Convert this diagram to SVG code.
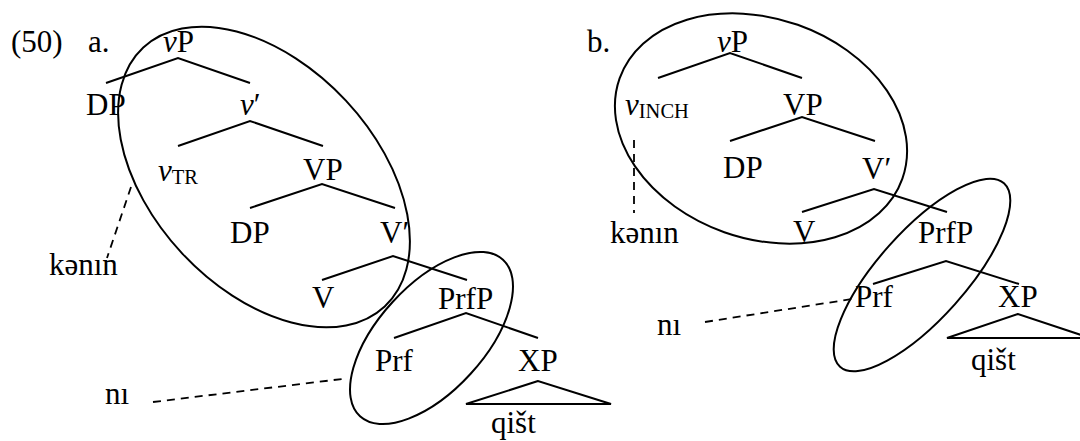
<svg xmlns="http://www.w3.org/2000/svg" width="1080" height="441" viewBox="0 0 1080 441">
<style>
text{font-family:"Liberation Serif","Times New Roman",serif;font-size:31px;fill:#000}
.sub{font-size:20.5px}
.i{font-style:italic}
.br{stroke:#000;stroke-width:2;fill:none;stroke-linecap:butt}
.dash{stroke:#000;stroke-width:1.8;fill:none;stroke-dasharray:8 6}
.ell{stroke:#000;stroke-width:2;fill:none}
</style>
<rect width="1080" height="441" fill="#fff"/>
<g id="labels">
<text x="11" y="52">(50)</text>
<text x="88" y="52">a.</text>
<text x="587" y="52">b.</text>
</g>
<g id="treeA">
<g id="a-vP"><text x="163" y="52"><tspan class="i">v</tspan>P</text></g>
<g id="a-DP1"><text x="86" y="115">DP</text></g>
<g id="a-vbar"><text x="240" y="115"><tspan class="i">v</tspan>′</text></g>
<g id="a-vTR"><text x="158" y="181"><tspan class="i">v</tspan><tspan class="sub" dy="3">TR</tspan></text></g>
<g id="a-VP"><text x="303" y="180">VP</text></g>
<g id="a-DP2"><text x="230" y="243">DP</text></g>
<g id="a-Vbar"><text x="380" y="243">V′</text></g>
<g id="a-V"><text x="312" y="308">V</text></g>
<g id="a-PrfP"><text x="438" y="309">PrfP</text></g>
<g id="a-Prf"><text x="375" y="371">Prf</text></g>
<g id="a-XP"><text x="518" y="371">XP</text></g>
<g id="a-qist"><text x="491" y="433">qišt</text></g>
<g id="a-kenin"><text x="49" y="275">kənın</text></g>
<g id="a-ni"><text x="105" y="404">nı</text></g>
</g>
<g id="treeB">
<g id="b-vP"><text x="717" y="52"><tspan class="i">v</tspan>P</text></g>
<g id="b-vINCH"><text x="625" y="115"><tspan class="i">v</tspan><tspan class="sub" dy="3">INCH</tspan></text></g>
<g id="b-VP"><text x="783" y="115">VP</text></g>
<g id="b-DP"><text x="723" y="178">DP</text></g>
<g id="b-Vbar"><text x="862" y="179">V′</text></g>
<g id="b-V"><text x="793" y="242">V</text></g>
<g id="b-PrfP"><text x="918" y="243">PrfP</text></g>
<g id="b-Prf"><text x="855" y="307">Prf</text></g>
<g id="b-XP"><text x="998" y="307">XP</text></g>
<g id="b-qist"><text x="971" y="370">qišt</text></g>
<g id="b-kenin"><text x="610" y="243">kənın</text></g>
<g id="b-ni"><text x="657" y="335">nı</text></g>
</g>
<g id="ellipses">
<ellipse class="ell" cx="264" cy="177" rx="177" ry="112" transform="rotate(47 264 177)"/>
<ellipse class="ell" cx="431.5" cy="338" rx="106" ry="53" transform="rotate(-47.6 431.5 338)"/>
<ellipse class="ell" cx="761" cy="128.5" rx="150" ry="110" transform="rotate(19.5 761 128.5)"/>
<ellipse class="ell" cx="922" cy="275" rx="123" ry="44" transform="rotate(-48.2 922 275)"/>
</g>
<g id="connectors">
<polyline class="br" points="106,83 178,58 250,83"/>
<polyline class="br" points="178,146 250,121 323,146"/>
<polyline class="br" points="250,208 322,184 395,208"/>
<polyline class="br" points="322,280 393,256 467,280"/>
<polyline class="br" points="394,338 466,313 538,338"/>
<polygon class="br" points="538,381 466,404 611,404"/>
<polyline class="br" points="658,78 730,53 802,78"/>
<polyline class="br" points="730,141 802,117 875,141"/>
<polyline class="br" points="802,212 874,189 947,212"/>
<polyline class="br" points="873,284 946,261 1019,284"/>
<polygon class="br" points="1018,314 947,338 1090,338"/>
<line class="dash" x1="131" y1="187" x2="107" y2="258"/>
<line class="dash" x1="153" y1="402" x2="342" y2="379"/>
<line class="dash" x1="634" y1="140" x2="634" y2="213"/>
<line class="dash" x1="705" y1="322" x2="852" y2="299"/>
</g>
</svg>
